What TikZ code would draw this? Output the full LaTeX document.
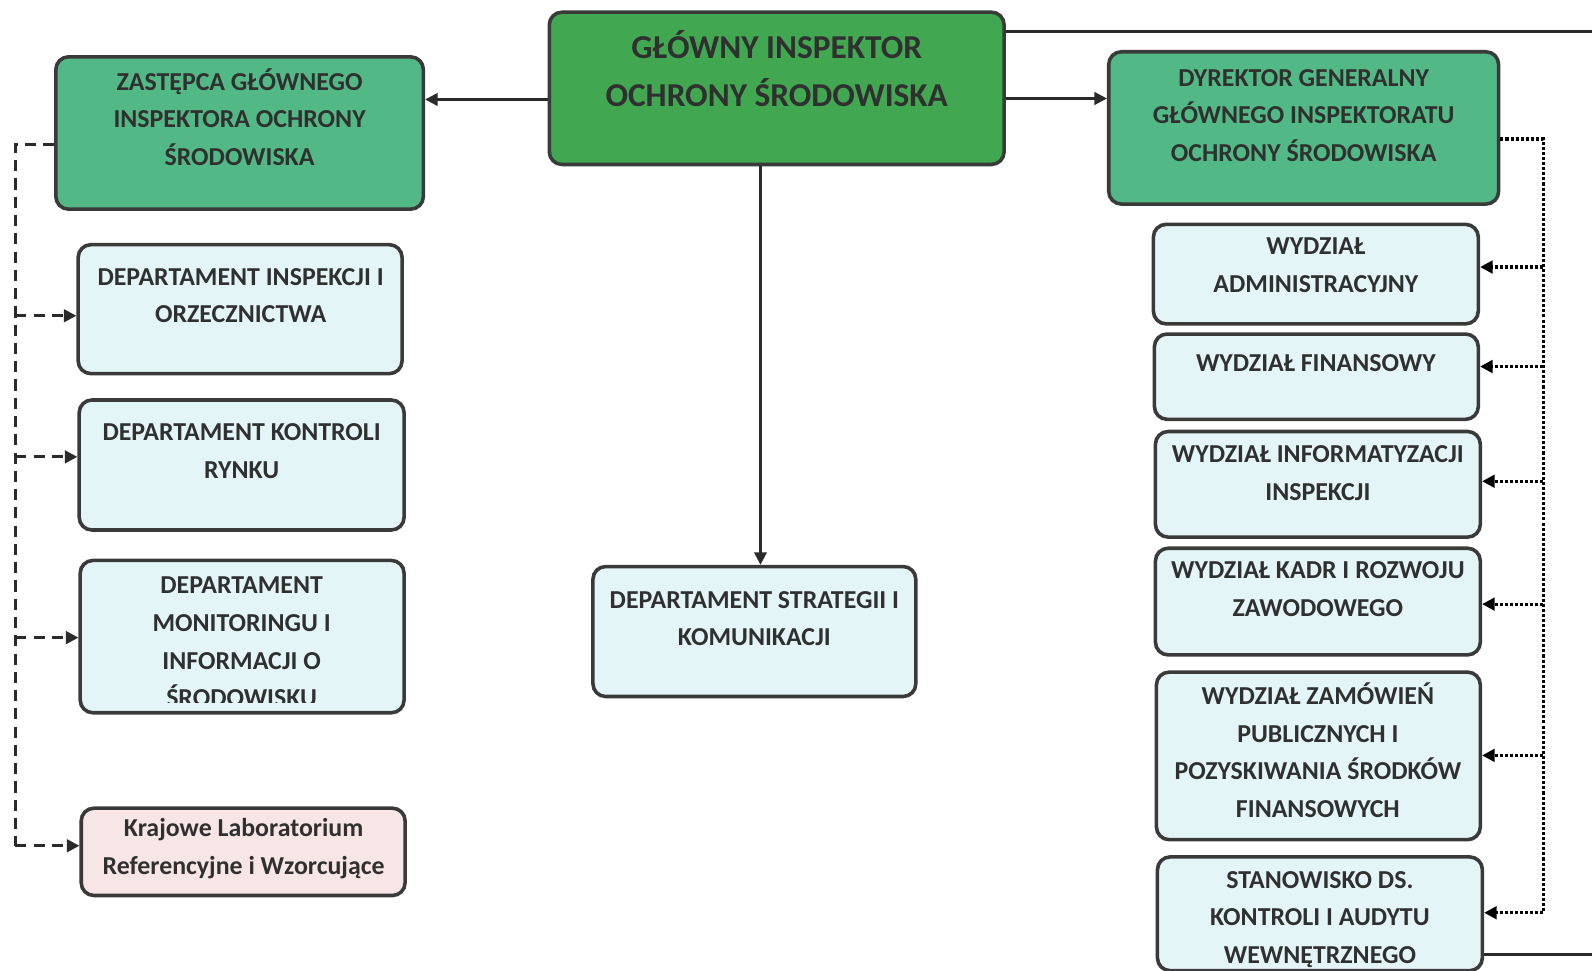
\documentclass[tikz,border=0pt]{standalone}
\usepackage{fontspec}
\setmainfont{Carlito}
\usetikzlibrary{arrows.meta}
\definecolor{boxc}{HTML}{3A3A3A}
\definecolor{txtc}{HTML}{303030}
\definecolor{linec}{HTML}{2A2A2A}
\definecolor{gmain}{HTML}{41A851}
\definecolor{gsub}{HTML}{52B886}
\definecolor{light}{HTML}{E4F5F7}
\definecolor{pink}{HTML}{F8E6E6}
\tikzset{
  box/.style={draw=boxc, line width=2pt, rounded corners=0.25cm, inner sep=0pt},
  txt/.style={align=center, anchor=base, inner sep=0pt, text=txtc, font=\bfseries\fontsize{14.5}{21.06}\selectfont},
  bigtxt/.style={txt, font=\bfseries\fontsize{18.7}{26.75}\selectfont},
  conn/.style={draw=linec, line width=1.4pt},
  arr/.style={-{Triangle[length=7pt,width=7pt]}},
  dshline/.style={draw=linec, line width=1.6pt, dash pattern=on 0.22cm off 0.14cm},
  dotline/.style={draw=black, line width=1.8pt, dash pattern=on 0.06cm off 0.04cm},
}
\newcommand\obox[6]{\node[box,#2,minimum width={(#5-#3)*0.02cm},minimum height={(#6-#4)*0.02cm}] (#1) at ({(#3+#5)/2},{(#4+#6)/2}) {};}
\begin{document}
\begin{tikzpicture}[x=0.02cm,y=-0.02cm]
\useasboundingbox (0,0) rectangle (1568,956);
\fill[white] (0,0) rectangle (1568,956);

% boxes
\obox{main}{fill=gmain}{541}{12}{989}{162}
\obox{zast}{fill=gsub}{55}{56}{417}{206}
\obox{dyr}{fill=gsub}{1092}{51}{1476}{201}
\obox{insp}{fill=light}{77}{241}{396}{368}
\obox{kontr}{fill=light}{78}{394}{398}{522}
\obox{monit}{fill=light}{79}{552}{398}{702}
\obox{krl}{fill=pink}{80}{796}{399}{882}
\obox{strat}{fill=light}{584}{558}{902}{686}
\obox{adm}{fill=light}{1136}{221}{1456}{319}
\obox{fin}{fill=light}{1137}{329}{1456}{413}
\obox{inf}{fill=light}{1138}{425}{1458}{529}
\obox{kadr}{fill=light}{1138}{540}{1458}{645}
\obox{zam}{fill=light}{1139}{662}{1458}{827}
\obox{stan}{fill=light}{1140}{844}{1460}{956}

% texts (anchor = baseline of the last line)
\node[bigtxt] (main-t) at (765,105) {GŁÓWNY INSPEKTOR\\OCHRONY ŚRODOWISKA};
\node[txt] (zast-t) at (236,163) {ZASTĘPCA GŁÓWNEGO\\INSPEKTORA OCHRONY\\ŚRODOWISKA};
\node[txt] (dyr-t) at (1284,159) {DYREKTOR GENERALNY\\GŁÓWNEGO INSPEKTORATU\\OCHRONY ŚRODOWISKA};
\node[txt] (insp-t) at (237,318) {DEPARTAMENT INSPEKCJI I\\ORZECZNICTWA};
\node[txt] (kontr-t) at (238,471) {DEPARTAMENT KONTROLI\\RYNKU};
\begin{scope}
\clip (79,552) rectangle (398,692);
\node[txt] (monit-t) at (238,696) {DEPARTAMENT\\MONITORINGU I\\INFORMACJI O\\ŚRODOWISKU};
\end{scope}
\node[txt] (krl-t) at (240,861) {Krajowe Laboratorium\\Referencyjne i Wzorcujące};
\node[txt] (strat-t) at (743,636) {DEPARTAMENT STRATEGII I\\KOMUNIKACJI};
\node[txt] (adm-t) at (1296,288) {WYDZIAŁ\\ADMINISTRACYJNY};
\node[txt] (fin-t) at (1296,366) {WYDZIAŁ FINANSOWY};
\node[txt] (inf-t) at (1298,493) {WYDZIAŁ INFORMATYZACJI\\INSPEKCJI};
\node[txt] (kadr-t) at (1298,607) {WYDZIAŁ KADR I ROZWOJU\\ZAWODOWEGO};
\node[txt] (zam-t) at (1298,805) {WYDZIAŁ ZAMÓWIEŃ\\PUBLICZNYCH I\\POZYSKIWANIA ŚRODKÓW\\FINANSOWYCH};
\node[txt] (stan-t) at (1300,949) {STANOWISKO DS.\\KONTROLI I AUDYTU\\WEWNĘTRZNEGO};

% solid connectors
\coordinate (yA) at (0,98);
\coordinate (yB) at (0,97);
\coordinate (xC) at (749,0);
\coordinate (yTop) at (0,31);
\coordinate (topR) at (1568,31);
\coordinate (botR) at (1568,940);
\draw[conn,arr] (main.west |- yA) -- (zast.east |- yA);
\draw[conn,arr] (main.east |- yB) -- (dyr.west |- yB);
\draw[conn,arr] (main.south -| xC) -- (strat.north -| xC);
\draw[conn] (main.east |- yTop) -- (topR);
\draw[conn] (stan.east |- botR) -- (botR);

% left dashed
\coordinate (L0) at (15,142);
\coordinate (L1) at (15,311);
\coordinate (L2) at (15,450);
\coordinate (L3) at (15,628);
\coordinate (L4) at (15,833);
\draw[dshline] (zast.west |- L0) -- (L0) -- (L4);
\draw[dshline,arr] (L1) -- (insp.west |- L1);
\draw[dshline,arr] (L2) -- (kontr.west |- L2);
\draw[dshline,arr] (L3) -- (monit.west |- L3);
\draw[dshline,arr] (L4) -- (krl.west |- L4);

% right dotted
\coordinate (R0) at (1520,137);
\coordinate (R1) at (1520,263);
\coordinate (R2) at (1520,361);
\coordinate (R3) at (1520,474);
\coordinate (R4) at (1520,595);
\coordinate (R5) at (1520,744);
\coordinate (R6) at (1520,899);
\draw[dotline] (dyr.east |- R0) -- (R0) -- (R6);
\draw[dotline,arr] (R1) -- (adm.east |- R1);
\draw[dotline,arr] (R2) -- (fin.east |- R2);
\draw[dotline,arr] (R3) -- (inf.east |- R3);
\draw[dotline,arr] (R4) -- (kadr.east |- R4);
\draw[dotline,arr] (R5) -- (zam.east |- R5);
\draw[dotline,arr] (R6) -- (stan.east |- R6);
\end{tikzpicture}
\end{document}
